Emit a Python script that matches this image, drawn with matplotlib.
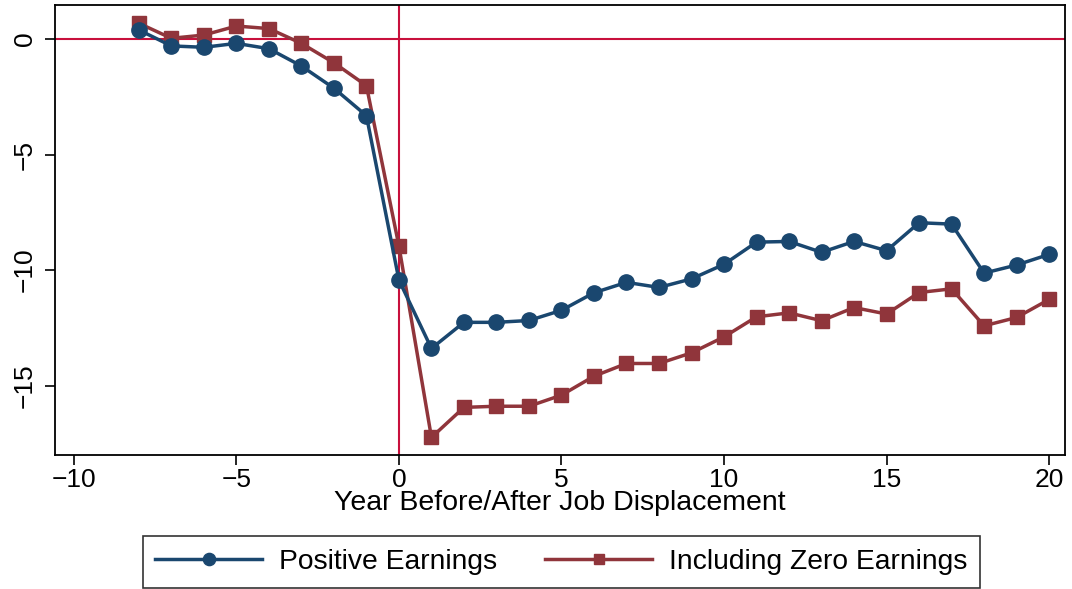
import matplotlib
matplotlib.use("Agg")
import matplotlib.pyplot as plt

years = list(range(-8, 21))
positive_earnings = [0.39, -0.30, -0.36, -0.19, -0.42, -1.17, -2.13, -3.32, -10.43,
                     -13.39, -12.26, -12.26, -12.18, -11.74, -10.98, -10.53, -10.75,
                     -10.38, -9.75, -8.79, -8.76, -9.23, -8.76, -9.16, -7.95, -8.01,
                     -10.13, -9.78, -9.32]
zero_earnings = [0.68, 0.03, 0.17, 0.56, 0.45, -0.19, -1.03, -2.02, -8.96,
                 -17.24, -15.94, -15.89, -15.89, -15.41, -14.59, -14.04, -14.04,
                 -13.58, -12.89, -12.02, -11.85, -12.19, -11.62, -11.90, -10.97,
                 -10.81, -12.41, -12.05, -11.27]
x_ticks = [-10, -5, 0, 5, 10, 15, 20]
y_ticks = [0, -5, -10, -15]

plt.rcParams["font.family"] = ["Liberation Sans", "DejaVu Sans"]

fig = plt.figure(figsize=(10.72, 5.89), dpi=100)
ax = fig.add_axes([0.0513, 0.2275, 0.9422, 0.764])

ref_color = "#c8103c"
ax.axhline(0, color=ref_color, lw=1.5, zorder=1)
ax.axvline(0, color=ref_color, lw=1.5, zorder=1)

ax.plot(years, positive_earnings, color="#1a476f", lw=2.5, marker="o",
        markersize=11, label="Positive Earnings", zorder=3)
ax.plot(years, zero_earnings, color="#90353b", lw=2.5, marker="s",
        markersize=9.5, label="Including Zero Earnings", zorder=2)

ax.set_xlim(-10.58, 20.49)
ax.set_ylim(-18.0, 1.47)
ax.set_xticks(x_ticks)
ax.set_xticklabels([str(t).replace("-", "\u2212") for t in x_ticks])
ax.set_yticks(y_ticks)
ax.set_yticklabels([str(t).replace("-", "\u2212") for t in y_ticks],
                   rotation=90, va="center")
ax.tick_params(axis="both", direction="out", length=7, width=1.2,
               labelsize=19, color="black")
ax.tick_params(axis="x", pad=2)
ax.tick_params(axis="y", pad=6)
for s in ax.spines.values():
    s.set_linewidth(1.3)
    s.set_color("black")

ax.set_xlabel("Year Before/After Job Displacement", fontsize=20.5, labelpad=-1)

leg = fig.legend(loc="center", bbox_to_anchor=(0.5238, 0.0458), ncol=2,
                 fontsize=20.3, frameon=True, fancybox=False, edgecolor="black",
                 handlelength=3.8, columnspacing=1.7, handletextpad=0.6,
                 borderpad=0.45, markerscale=0.8)
leg.get_frame().set_linewidth(1.2)

fig.savefig("out.png", dpi=100)
